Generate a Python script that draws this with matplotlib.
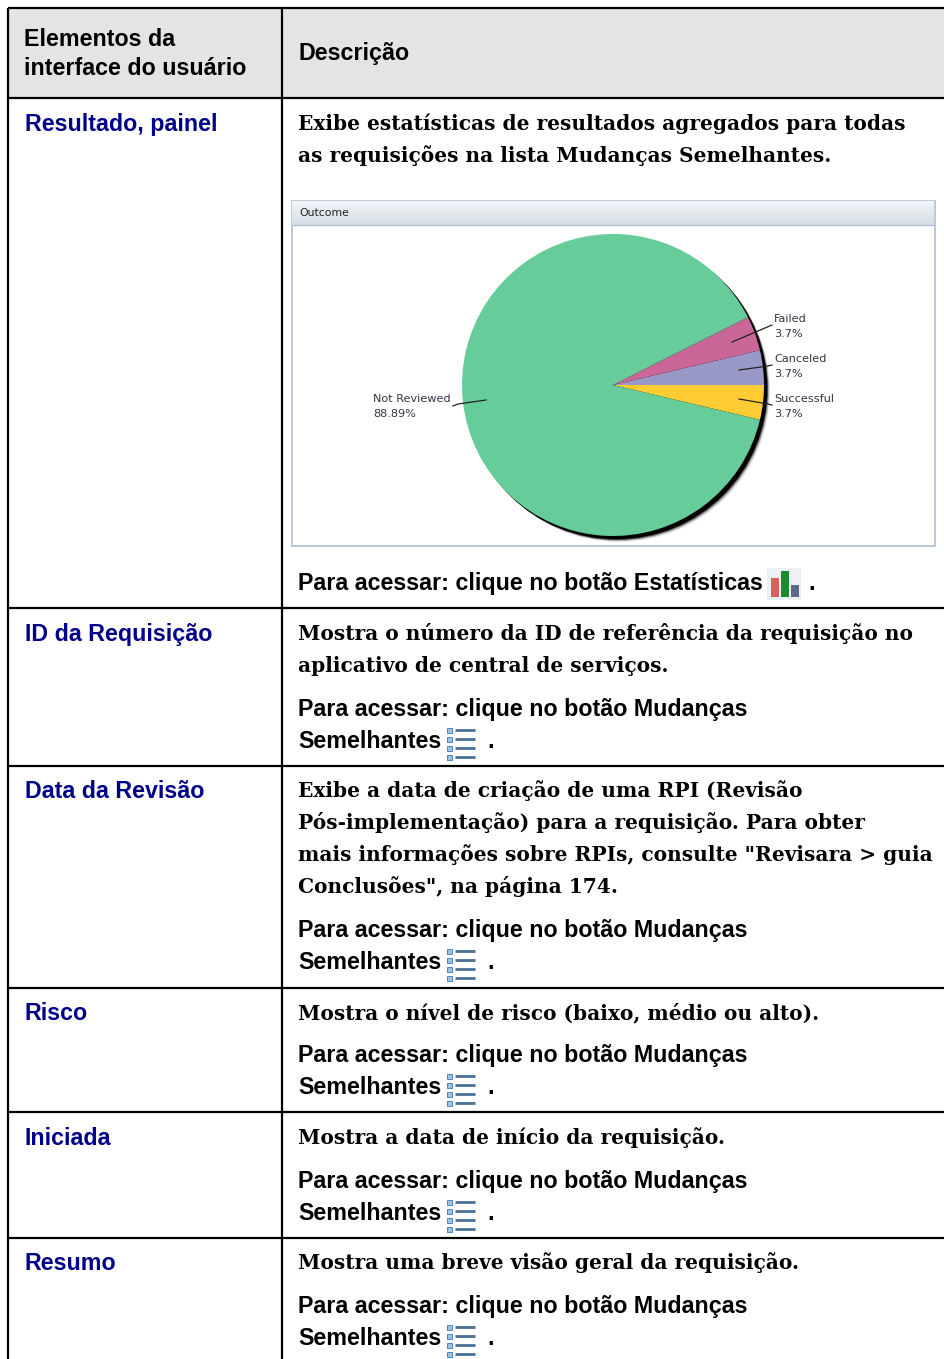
import matplotlib
matplotlib.use('Agg')
import matplotlib.pyplot as plt
import numpy as np
from matplotlib.patches import Circle, Rectangle

W, H = 944, 1359

# table text
header_left = ['Elementos da', 'interface do usuário']
header_right = 'Descrição'
row_names = ['Resultado, painel', 'ID da Requisição', 'Data da Revisão', 'Risco', 'Iniciada', 'Resumo']
row_desc = [
    ['Exibe estatísticas de resultados agregados para todas',
     'as requisições na lista Mudanças Semelhantes.'],
    ['Mostra o número da ID de referência da requisição no',
     'aplicativo de central de serviços.'],
    ['Exibe a data de criação de uma RPI (Revisão',
     'Pós-implementação) para a requisição. Para obter',
     'mais informações sobre RPIs, consulte "Revisara > guia',
     'Conclusões", na página 174.'],
    ['Mostra o nível de risco (baixo, médio ou alto).'],
    ['Mostra a data de início da requisição.'],
    ['Mostra uma breve visão geral da requisição.'],
]
access_one = 'Para acessar: clique no botão Estatísticas'
access_two = ['Para acessar: clique no botão Mudanças', 'Semelhantes']

# pie chart values
pie_title = 'Outcome'
pie_names = ['Successful', 'Canceled', 'Failed', 'Not Reviewed']
pie_pcts = [3.7, 3.7, 3.7, 88.89]
pie_colors = ['#ffcc33', '#9999c8', '#cb6699', '#66cc99']

# layout, in pixels of the page
row_lines = [8, 98, 608, 766, 988, 1112, 1238]
name_base = [131, 641, 798, 1020, 1145, 1270]
desc_base = [[131, 163], [641, 673], [798, 830, 862, 894], [1020], [1145], [1270]]
access_base = [None, 716, 937, 1062, 1188, 1313]
BLUE = '#00008b'

fig = plt.figure(figsize=(W / 100, H / 100), dpi=100)
ax = fig.add_axes([0, 0, 1, 1])
ax.set_xlim(0, W)
ax.set_ylim(H, 0)
ax.axis('off')

sans = 'Liberation Sans'
serif = 'DejaVu Serif'


def fit_size(s, family, width):
    # font size that makes s as wide as the same line in the reference
    t = ax.text(0, 0, s, family=family, fontweight='bold', fontsize=10)
    w = t.get_window_extent(fig.canvas.get_renderer()).width
    t.remove()
    return 10 * width / w


sans_size = fit_size(access_two[0], sans, 449)
serif_size = fit_size(row_desc[0][0], serif, 610)


def sans_text(x, y, s, color='black'):
    ax.text(x, y, s, family=sans, fontweight='bold', fontsize=sans_size, color=color, va='baseline')


def serif_text(x, y, s):
    ax.text(x, y - 1, s, family=serif, fontweight='bold', fontsize=serif_size, color='black', va='baseline')


def bar_icon(x, y):
    ax.add_patch(Rectangle((x, y), 34, 32, color='#eef1f3', lw=0))
    ax.add_patch(Rectangle((x + 4, y + 10), 8, 19, color='#d8605e', lw=0))
    ax.add_patch(Rectangle((x + 14, y + 3), 8, 26, color='#1e8a2e', lw=0))
    ax.add_patch(Rectangle((x + 24, y + 17), 8, 12, color='#5a6a8a', lw=0))


def list_icon(x, y):
    for i in range(4):
        yy = y + 2 + i * 9
        ax.add_patch(Rectangle((x, yy - 2), 5, 5, facecolor='#9cc3e6', edgecolor='#4f86b8', lw=0.7))
        ax.plot([x + 8, x + 28], [yy, yy], color='#4a6f96', lw=2, solid_capstyle='butt')


# table frame
ax.add_patch(Rectangle((8, 8), W - 8, 90, color='#e4e4e4', lw=0))
for y in row_lines:
    ax.plot([8, W], [y, y], color='black', lw=1.6, solid_capstyle='butt')
ax.plot([8, 8], [8, H], color='black', lw=1.6, solid_capstyle='butt')
ax.plot([282, 282], [8, H], color='black', lw=1.6, solid_capstyle='butt')

# header
sans_text(24, 46, header_left[0])
sans_text(24, 75, header_left[1])
sans_text(298, 60, header_right)

# rows
for name, y in zip(row_names, name_base):
    sans_text(25, y, name, color=BLUE)
for lines, bases in zip(row_desc, desc_base):
    for line, y in zip(lines, bases):
        serif_text(298, y, line)

sans_text(298, 590, access_one)
bar_icon(767, 568)
sans_text(808, 590, '.')
for y in access_base[1:]:
    sans_text(298, y, access_two[0])
    sans_text(298, y + 32, access_two[1])
    list_icon(447, y + 12)
    sans_text(487, y + 32, '.')

# chart panel
ax.add_patch(Rectangle((291.5, 200.5), 643, 345, facecolor='white', edgecolor='#aebfd3', lw=1.2))
grad = np.linspace(0, 1, 24).reshape(-1, 1)
ax.imshow(grad, extent=(292, 934, 225, 201), aspect='auto', zorder=2,
          cmap=matplotlib.colors.LinearSegmentedColormap.from_list('hdr', ['#f2f5f8', '#d5dde6']))
ax.set_xlim(0, W)
ax.set_ylim(H, 0)
ax.plot([292, 934], [225, 225], color='#aebfd3', lw=1, zorder=3)
ax.text(299, 216, pie_title, family='DejaVu Sans', fontsize=7.8, color='#222222', zorder=3)

# pie, in its own square axes
cx, cy, r = 613, 385, 151
pad = 12
pie_ax = fig.add_axes([(cx - r - pad) / W, 1 - (cy + r + pad) / H,
                       2 * (r + pad) / W, 2 * (r + pad) / H])
pie_ax.set_xlim(-(r + pad), r + pad)
pie_ax.set_ylim(-(r + pad), r + pad)
pie_ax.axis('off')
for off, alpha in zip([7.5, 6.6, 5.8, 5, 4.4, 3.8], [0.08, 0.14, 0.22, 0.4, 0.65, 1]):
    pie_ax.add_patch(Circle((off * 0.8, -off * 0.8), r, color='black', alpha=alpha, lw=0))
pie_ax.pie(pie_pcts, colors=pie_colors, radius=r, center=(0, 0), frame=True,
           startangle=-pie_pcts[0] / sum(pie_pcts) * 360,
           wedgeprops={'linewidth': 0})
pie_ax.set_xlim(-(r + pad), r + pad)
pie_ax.set_ylim(-(r + pad), r + pad)
pie_ax.axis('off')

# pie labels and leader lines, back on the page axes
ax.set_zorder(0)
pie_ax.set_zorder(1)
over = fig.add_axes([0, 0, 1, 1], zorder=2)
over.set_xlim(0, W)
over.set_ylim(H, 0)
over.axis('off')
label_pos = [(774, 402), (774, 362), (774, 322), (373, 402)]
leaders = [
    ([739, 768, 772], [399, 404, 405]),
    ([739, 768, 772], [370, 366, 365]),
    ([732, 765, 772], [342, 328, 325]),
    ([486, 458, 453], [400, 404, 406]),
]
for name, pct, pos, line in zip(pie_names, pie_pcts, label_pos, leaders):
    over.plot(line[0], line[1], color='#222222', lw=0.9)
    over.text(pos[0], pos[1], name, family='DejaVu Sans', fontsize=8.1, color='#333344')
    over.text(pos[0], pos[1] + 15, f'{pct}%', family='DejaVu Sans', fontsize=8.1, color='#333344')

fig.savefig('out.png', dpi=100)
